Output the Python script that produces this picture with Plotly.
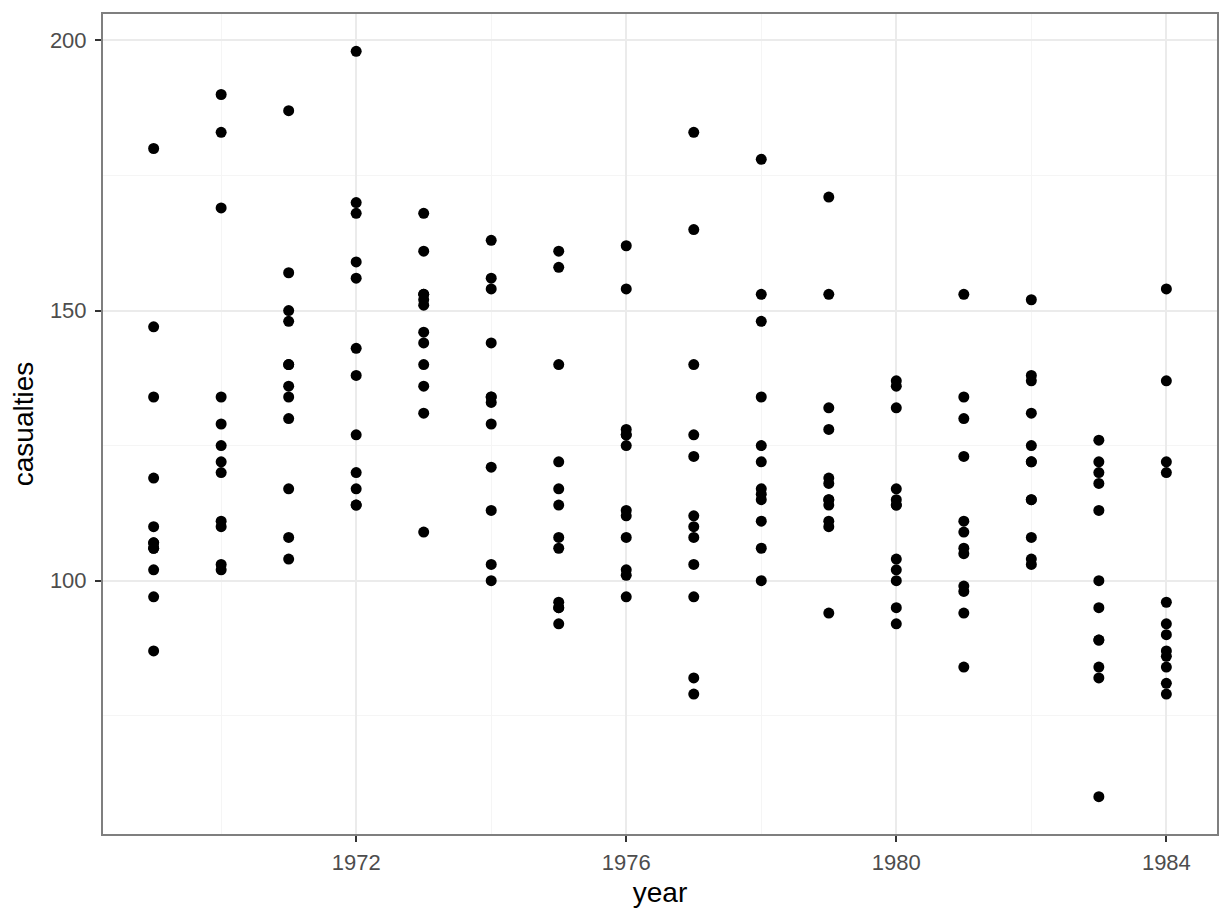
import plotly.graph_objects as go

years = list(range(1969, 1985))

c1969 = [107, 97, 102, 87, 119, 106, 110, 106, 107, 134, 147, 180]
c1970 = [125, 134, 110, 102, 103, 111, 120, 129, 122, 183, 169, 190]
c1971 = [134, 108, 104, 117, 157, 148, 130, 140, 136, 140, 187, 150]
c1972 = [198, 170, 168, 159, 156, 143, 138, 127, 120, 117, 114, 114]
c1973 = [168, 161, 153, 152, 151, 146, 144, 140, 136, 131, 109, 153]
c1974 = [163, 156, 154, 144, 134, 133, 129, 121, 113, 103, 100, 134]
c1975 = [161, 158, 140, 122, 117, 114, 108, 106, 96, 95, 92, 95]
c1976 = [162, 154, 128, 127, 125, 113, 112, 108, 102, 101, 97, 127]
c1977 = [183, 165, 140, 127, 123, 112, 110, 108, 103, 97, 82, 79]
c1978 = [178, 153, 148, 134, 125, 122, 117, 116, 115, 111, 106, 100]
c1979 = [171, 153, 132, 128, 119, 118, 115, 114, 111, 110, 94, 115]
c1980 = [137, 136, 132, 117, 115, 114, 104, 102, 100, 95, 92, 114]
c1981 = [153, 134, 130, 123, 111, 109, 106, 105, 99, 98, 94, 84]
c1982 = [152, 138, 137, 131, 125, 122, 115, 108, 104, 103, 122, 115]
c1983 = [126, 122, 120, 118, 113, 100, 95, 89, 84, 82, 60, 89]
c1984 = [154, 137, 122, 120, 96, 92, 90, 87, 86, 84, 81, 79]

casualties_by_year = [c1969, c1970, c1971, c1972, c1973, c1974, c1975, c1976,
                      c1977, c1978, c1979, c1980, c1981, c1982, c1983, c1984]

x_tick_vals = [1972, 1976, 1980, 1984]
x_minor_vals = [1970, 1974, 1978, 1982]
y_tick_vals = [100, 150, 200]
y_minor_vals = [75, 125, 175]

xs, ys = [], []
for yr, vals in zip(years, casualties_by_year):
    for v in vals:
        xs.append(yr)
        ys.append(v)

fig = go.Figure(go.Scatter(
    x=xs, y=ys, mode="markers",
    marker=dict(color="black", size=11, line=dict(width=0)),
    showlegend=False,
))

font_family = "Liberation Sans, Arial, Helvetica, sans-serif"
xr = (min(years), max(years))
yr_ = (min(ys), max(ys))
xpad = (xr[1] - xr[0]) * 0.05
ypad = (yr_[1] - yr_[0]) * 0.05

axis_common = dict(
    showline=True, linecolor="#7f7f7f", linewidth=2, mirror=True,
    showgrid=True, gridcolor="#ebebeb", gridwidth=2,
    ticks="outside", ticklen=6, tickwidth=2, tickcolor="#333333",
    tickfont=dict(family=font_family, size=22, color="#4d4d4d"),
    zeroline=False,
)

# page body has an 8px margin, so the figure is sized/offset to compensate
fig.update_layout(
    width=1220, height=913,
    margin=dict(l=95, r=11, t=4, b=87),
    plot_bgcolor="white", paper_bgcolor="white",
    font=dict(family=font_family),
    xaxis=dict(
        range=[xr[0] - xpad, xr[1] + xpad],
        tickvals=x_tick_vals,
        minor=dict(tickvals=x_minor_vals, showgrid=True,
                   gridcolor="#f5f5f5", gridwidth=1, ticks=""),
        title=dict(text="year", font=dict(family=font_family, size=28, color="black"),
                   standoff=8),
        ticklabelstandoff=2,
        **axis_common,
    ),
    yaxis=dict(
        range=[yr_[0] - ypad, yr_[1] + ypad],
        tickvals=y_tick_vals,
        minor=dict(tickvals=y_minor_vals, showgrid=True,
                   gridcolor="#f5f5f5", gridwidth=1, ticks=""),
        title=dict(text="casualties", font=dict(family=font_family, size=28, color="black"),
                   standoff=10),
        ticklabelstandoff=4,
        **axis_common,
    ),
)

fig.write_html("out.html")
